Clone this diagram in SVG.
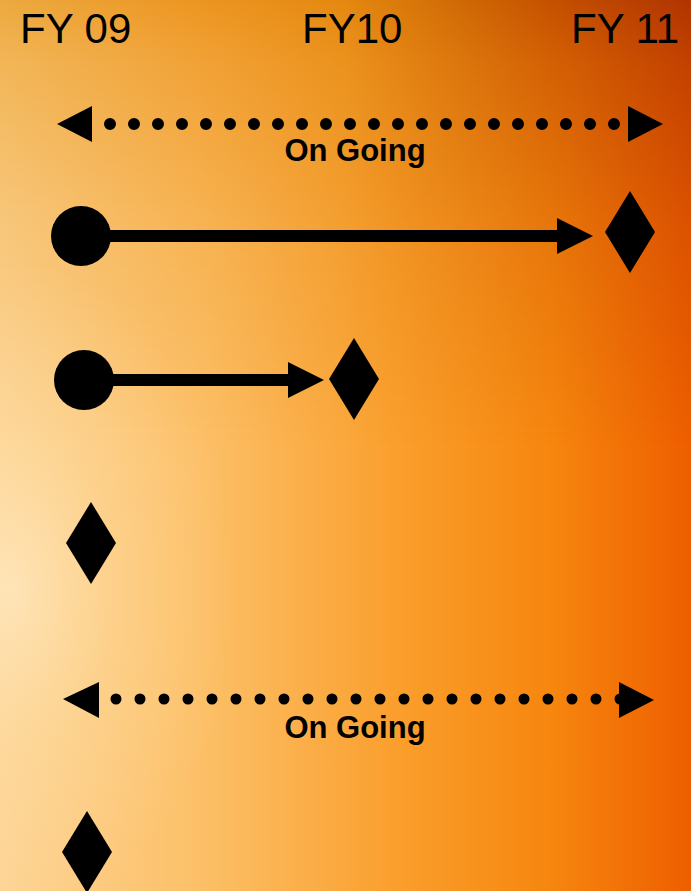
<svg xmlns="http://www.w3.org/2000/svg" width="691" height="891" viewBox="0 0 691 891">
  <defs>
    <!-- warm background: light-to-deep orange across, darker towards the top -->
    <linearGradient id="bgBottom" x1="0" y1="0" x2="1" y2="0">
      <stop offset="0" stop-color="#fdd495"/>
      <stop offset="0.3" stop-color="#fcbf66"/>
      <stop offset="0.58" stop-color="#fa9e2c"/>
      <stop offset="0.8" stop-color="#f6860e"/>
      <stop offset="1" stop-color="#ee5e00"/>
    </linearGradient>
    <linearGradient id="bgTop" x1="0" y1="0" x2="1" y2="0">
      <stop offset="0" stop-color="#eca93e"/>
      <stop offset="0.3" stop-color="#ec9420"/>
      <stop offset="0.5" stop-color="#e48810"/>
      <stop offset="0.66" stop-color="#d06a05"/>
      <stop offset="0.8" stop-color="#c45000"/>
      <stop offset="1" stop-color="#b03400"/>
    </linearGradient>
    <linearGradient id="fadeDown" x1="0" y1="0" x2="0" y2="1">
      <stop offset="0" stop-color="#fff"/>
      <stop offset="0.07" stop-color="#fff" stop-opacity="0.7"/>
      <stop offset="0.25" stop-color="#fff" stop-opacity="0.3"/>
      <stop offset="0.5" stop-color="#fff" stop-opacity="0"/>
    </linearGradient>
    <mask id="topMask" maskUnits="userSpaceOnUse" x="0" y="0" width="691" height="891">
      <rect width="691" height="891" fill="url(#fadeDown)"/>
    </mask>
    <radialGradient id="glow" cx="10" cy="590" r="300" gradientUnits="userSpaceOnUse" gradientTransform="translate(10 590) scale(0.75 1.1) translate(-10 -590)">
      <stop offset="0" stop-color="#fff0d0" stop-opacity="0.6"/>
      <stop offset="0.5" stop-color="#fee4b0" stop-opacity="0.25"/>
      <stop offset="1" stop-color="#fee4b0" stop-opacity="0"/>
    </radialGradient>
    <marker id="head" markerUnits="strokeWidth" markerWidth="3" markerHeight="3" refX="0" refY="1.5" orient="auto" overflow="visible">
      <path d="M0,0 L3,1.5 L0,3 Z" fill="#000"/>
    </marker>
    <style>
      .year { font-family: "Liberation Sans", Arial, sans-serif; font-size: 42px; fill: #000; }
      .tag { font-family: "Liberation Sans", Arial, sans-serif; font-size: 31px; font-weight: bold; fill: #000; text-anchor: middle; }
      .solid { stroke: #000; stroke-width: 12; fill: none; marker-end: url(#head); }
      .dots { stroke: #000; stroke-width: 12; stroke-linecap: round; stroke-dasharray: 0 24; fill: none; }
      .head, .mark { fill: #000; }
    </style>
  </defs>

  <!-- background -->
  <rect width="691" height="891" fill="url(#bgBottom)"/>
  <rect width="691" height="891" fill="url(#bgTop)" mask="url(#topMask)"/>
  <rect width="691" height="891" fill="url(#glow)"/>

  <!-- fiscal year headings -->
  <g id="years">
    <text class="year" x="20" y="43">FY 09</text>
    <text class="year" x="302" y="43">FY10</text>
    <text class="year" x="571" y="43">FY 11</text>
  </g>

  <!-- connectors -->
  <g id="connectors">
    <g id="ongoing-top">
      <line class="dots" x1="110" y1="124" x2="615" y2="124"/>
      <polygon class="head" points="57,124 92,106 92,142"/>
      <polygon class="head" points="628,106 663,124 628,142"/>
    </g>
    <line id="span-1" class="solid" x1="100" y1="236" x2="557" y2="236"/>
    <line id="span-2" class="solid" x1="100" y1="380" x2="288" y2="380"/>
    <g id="ongoing-bottom">
      <line class="dots" x1="116" y1="699" x2="621" y2="699" style="stroke-width:11"/>
      <polygon class="head" points="63,699 99,682 99,718"/>
      <polygon class="head" points="619,682 654,700 619,718"/>
    </g>
  </g>

  <!-- labels on the ongoing spans -->
  <g id="label-top"><text class="tag" x="355" y="161">On Going</text></g>
  <g id="label-bottom"><text class="tag" x="355" y="738">On Going</text></g>

  <!-- start points -->
  <g id="start-1"><circle class="mark" cx="81" cy="236" r="30"/></g>
  <g id="start-2"><circle class="mark" cx="84" cy="380" r="30"/></g>

  <!-- milestones -->
  <g id="milestone-1"><polygon class="mark" points="630,191 655,232 630,273 605,232"/></g>
  <g id="milestone-2"><polygon class="mark" points="354,338 379,379 354,420 329,379"/></g>
  <g id="milestone-3"><polygon class="mark" points="91,502 116,543 91,584 66,543"/></g>
  <g id="milestone-4"><polygon class="mark" points="87,811 112,852 87,893 62,852"/></g>
</svg>
